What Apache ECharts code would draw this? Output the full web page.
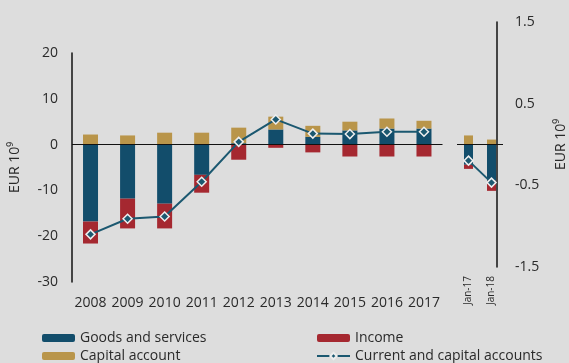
<!DOCTYPE html>
<html>
<head>
<meta charset="utf-8">
<script src="https://cdn.jsdelivr.net/npm/echarts@6/dist/echarts.min.js"></script>
<style>
  html, body { margin: 0; padding: 0; background: #dddddd; }
  #main { width: 569px; height: 363px; }
</style>
</head>
<body>
<div id="main"></div>
<script>
// annual data, EUR bn
const years = ['2008', '2009', '2010', '2011', '2012', '2013', '2014', '2015', '2016', '2017'];
const goodsYear = [-16.8, -11.8, -12.9, -6.6, 0.3, 3.3, 1.7, 3.1, 3.5, 3.5];
const incomeYear = [-4.8, -6.5, -5.4, -3.9, -3.3, -0.7, -1.7, -2.6, -2.6, -2.6];
const capitalYear = [2.2, 2.0, 2.6, 2.6, 3.4, 2.8, 2.4, 1.9, 2.2, 1.7];
const balanceYear = [-19.6, -16.2, -15.7, -8.1, 0.6, 5.5, 2.4, 2.3, 2.8, 2.8];

// january figures
const months = ['Jan-17', 'Jan-18'];
const goodsMonth = [-4.4, -7.9];
const incomeMonth = [-0.9, -2.2];
const capitalMonth = [2.0, 1.1];
const balanceMonth = [-3.5, -8.3];

// right axis labels
const rightLabels = [-1.5, -0.5, 0.5, 1.5];

const blue = '#124d6b';
const red = '#a52830';
const gold = '#b9954a';
const lineCol = '#1b5870';
const txt = '#2a2a2a';
const font = 'Open Sans';

const zeroLine = {
    silent: true,
    symbol: 'none',
    label: { show: false },
    lineStyle: { color: '#111', type: 'solid', width: 1.2 },
    emphasis: { disabled: true },
    data: [{ yAxis: 0 }]
};

function bars(name, color, data, idx, width, withZero) {
    let s = {
        name: name,
        type: 'bar',
        stack: 'tot' + idx,
        xAxisIndex: idx,
        yAxisIndex: idx,
        barWidth: width,
        itemStyle: { color: color },
        emphasis: { disabled: true },
        data: data
    };
    if (withZero) s.markLine = zeroLine;
    return s;
}

function line(data, idx) {
    return {
        name: 'Current and capital accounts',
        type: 'line',
        xAxisIndex: idx,
        yAxisIndex: idx,
        z: 5,
        symbol: 'diamond',
        symbolSize: 9,
        lineStyle: { color: lineCol, width: 2 },
        itemStyle: { color: lineCol, borderColor: '#eeeeee', borderWidth: 1.5 },
        emphasis: { disabled: true },
        data: data
    };
}

const legendText = { color: txt, fontSize: 14, lineHeight: 14, fontFamily: font };

const chart = echarts.init(document.getElementById('main'));
chart.setOption({
    backgroundColor: '#dddddd',
    animation: false,
    textStyle: { fontFamily: font },
    grid: [
        { left: 71, top: 53, width: 371.5, height: 229 },
        { left: 457, top: 53, width: 46, height: 229 },
        { left: 442, top: 22, width: 61, height: 245 }
    ],
    legend: [
        {
            left: 42, top: 331, orient: 'vertical', padding: 0,
            itemWidth: 33, itemHeight: 8, itemGap: 4,
            textStyle: legendText,
            selectedMode: false,
            data: ['Goods and services', 'Capital account']
        },
        {
            left: 316, top: 331, orient: 'vertical', padding: 0,
            itemWidth: 33, itemHeight: 8, itemGap: 4,
            textStyle: legendText,
            selectedMode: false,
            data: ['Income', 'Current and capital accounts']
        }
    ],
    xAxis: [
        {
            type: 'category', gridIndex: 0, data: years,
            axisLine: { show: false }, axisTick: { show: false },
            axisLabel: { color: txt, fontSize: 14, margin: 14, interval: 0 }
        },
        {
            type: 'category', gridIndex: 1, data: months,
            axisLine: { show: false }, axisTick: { show: false },
            axisLabel: { color: txt, fontSize: 10, rotate: 90, margin: -6, interval: 0 }
        },
        { type: 'category', gridIndex: 2, show: false, data: [''] }
    ],
    yAxis: [
        {
            type: 'value', gridIndex: 0, min: -30, max: 20, interval: 10,
            name: 'EUR 10⁹', nameLocation: 'middle', nameRotate: 90, nameGap: 50,
            nameTextStyle: { color: txt, fontSize: 14 },
            axisLine: { show: true, lineStyle: { color: '#111', width: 1.5 } },
            axisTick: { show: false },
            splitLine: { show: false },
            axisLabel: { color: txt, fontSize: 14, margin: 14 }
        },
        {
            type: 'value', gridIndex: 1, min: -30, max: 20, interval: 10, show: false
        },
        {
            type: 'value', gridIndex: 2, position: 'right', min: -1.5, max: 1.5, interval: 0.5,
            name: 'EUR 10⁹', nameLocation: 'middle', nameRotate: 90, nameGap: 57,
            nameTextStyle: { color: txt, fontSize: 14 },
            axisLine: { show: true, lineStyle: { color: '#111', width: 1.5 } },
            axisTick: { show: false },
            splitLine: { show: false },
            axisLabel: {
                color: txt, fontSize: 14, margin: 18,
                formatter: function (v) {
                    let hit = rightLabels.find(r => Math.abs(r - v) < 1e-6);
                    return hit === undefined ? '' : String(hit);
                }
            }
        }
    ],
    series: [
        bars('Goods and services', blue, goodsYear, 0, 15, true),
        bars('Income', red, incomeYear, 0, 15, false),
        bars('Capital account', gold, capitalYear, 0, 15, false),
        line(balanceYear, 0),
        bars('Goods and services', blue, goodsMonth, 1, 9, true),
        bars('Income', red, incomeMonth, 1, 9, false),
        bars('Capital account', gold, capitalMonth, 1, 9, false),
        line(balanceMonth, 1)
    ]
});
</script>
</body>
</html>
